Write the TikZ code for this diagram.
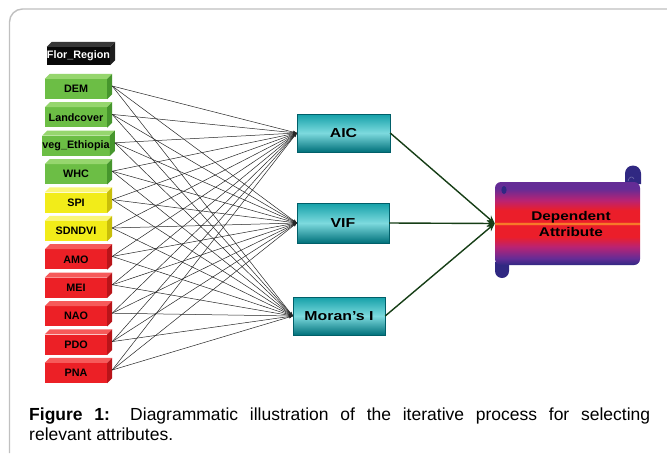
\documentclass[tikz,border=0pt]{standalone}
\usepackage{fontspec}
\setmainfont{Liberation Sans}
\newfontfamily\widefont[FakeStretch=1.22]{Liberation Sans}
\usetikzlibrary{arrows.meta}
\definecolor{grnF}{RGB}{108,190,69}
\definecolor{grnT}{RGB}{150,214,110}
\definecolor{grnS}{RGB}{70,150,45}
\definecolor{ylwF}{RGB}{242,236,25}
\definecolor{ylwT}{RGB}{250,246,120}
\definecolor{ylwS}{RGB}{200,190,10}
\definecolor{redF}{RGB}{236,32,38}
\definecolor{redT}{RGB}{246,90,90}
\definecolor{redS}{RGB}{185,20,25}
\definecolor{blkF}{RGB}{8,8,8}
\definecolor{blkT}{RGB}{55,55,55}
\definecolor{blkS}{RGB}{30,30,30}
\definecolor{tealTop}{RGB}{20,160,168}
\definecolor{tealMid}{RGB}{125,218,222}
\definecolor{tealBot}{RGB}{0,112,122}
\definecolor{tealLine}{RGB}{0,95,105}
\definecolor{scP}{RGB}{100,44,150}
\definecolor{scM}{RGB}{185,35,115}
\definecolor{scR}{RGB}{235,30,42}
\definecolor{scY}{RGB}{252,160,40}
\definecolor{scN}{RGB}{48,40,130}
\definecolor{arrowGreen}{RGB}{22,62,22}
\definecolor{frameGray}{RGB}{192,192,192}
\pgfdeclareverticalshading{scrollshade}{100bp}{color(0bp)=(scN); color(25bp)=(scN); color(29bp)=(scP); color(36bp)=(scM); color(42bp)=(scR); color(49bp)=(scR); color(50bp)=(scY); color(51bp)=(scR); color(58bp)=(scR); color(64bp)=(scM); color(71bp)=(scP); color(75bp)=(scP); color(100bp)=(scP)}
\tikzset{
  frontbox/.style={minimum width=62pt, minimum height=20pt, inner sep=0pt, font=\bfseries\fontsize{10.8}{12}\selectfont, text=black},
  midbox/.style={draw=tealLine, line width=0.4pt, top color=tealTop, bottom color=tealBot, middle color=tealMid, inner sep=0pt, font=\widefont\bfseries\fontsize{13}{15}\selectfont},
  thinlink/.style={draw=black!85, line width=0.5pt, -{Stealth[length=4pt,width=3pt]}},
  thicklink/.style={draw=arrowGreen, line width=1.4pt, -{Stealth[length=8pt,width=7pt]}},
  captext/.style={anchor=base west, inner sep=0pt, font=\fontsize{17.5}{20}\selectfont},
}
\begin{document}
\begin{tikzpicture}[x=1pt,y=-1pt]
\useasboundingbox (0,0) rectangle (667,453);
\fill[white] (0,0) rectangle (667,453);
% frame
\draw[frameGray, line width=1.4pt, rounded corners=13pt] (9.5,453) -- (9.5,9) -- (667,9);

% Flor_Region box
\node[frontbox, minimum width=63pt, minimum height=18pt, fill=blkF, text=white] (flor) at (78.5,56) {Flor\_Region};
\fill[blkT] (flor.north west) -- ++(5,-5) -- ([shift={(5,-5)}]flor.north east) -- (flor.north east) -- cycle;
\fill[blkS] (flor.north east) -- ++(5,-5) -- ([shift={(5,-5)}]flor.south east) -- (flor.south east) -- cycle;

% attribute boxes
\foreach \n/\yy/\t/\cc in {dem/89/DEM/grn, land/117.4/Landcover/grn, veg/145.8/veg\_Ethiopia/grn, whc/174.2/WHC/grn, spi/202.6/SPI/ylw, sdn/231/SDNDVI/ylw, amo/259.4/AMO/red, mei/287.8/MEI/red, nao/316.2/NAO/red, pdo/344.6/PDO/red, pna/373/PNA/red}{
  \node[frontbox, fill=\cc F] (\n) at (76,\yy) {\t};
  \fill[\cc T] (\n.north west) -- ++(5,-5) -- ([shift={(5,-5)}]\n.north east) -- (\n.north east) -- cycle;
  \fill[\cc S] (\n.north east) -- ++(5,-5) -- ([shift={(5,-5)}]\n.south east) -- (\n.south east) -- cycle;
  \coordinate (\n-r) at ([shift={(5,-3)}]\n.east);
}

% selection criteria boxes
\node[midbox, minimum width=93pt, minimum height=38pt] (aic) at (343.5,133) {AIC};
\node[midbox, minimum width=92pt, minimum height=40pt] (vif) at (343,223) {VIF};
\node[midbox, minimum width=92pt, minimum height=38pt] (mor) at (339,316) {Moran’s I};

% many-to-many links
\foreach \n in {dem,land,veg,whc,spi,sdn,amo,mei,nao,pdo,pna}{
  \foreach \m in {aic,vif,mor}{
    \draw[thinlink] (\n-r) -- (\m.west);
  }
}

% dependent attribute scroll
\fill[scN] (625,184) -- (625,173.5) arc (180:360:8) -- (641,184) -- cycle;
\fill[scN] (495,262) -- (495,271) arc (180:0:7) -- (509,262) -- cycle;
\node[shading=scrollshade, rounded corners=6pt, minimum width=145pt, minimum height=83pt, inner sep=0pt] (dep) at (567.5,223.5) {};
\fill[scN] (504,190) ellipse (2.6 and 4);
\draw[scN!70!white, line width=0.6pt] (628,181) .. controls (629,176) and (633,176) .. (634,179);
\node[font=\widefont\bfseries\fontsize{12.6}{16}\selectfont, align=center, inner sep=0pt] (deptext) at (571,224) {Dependent\\Attribute};

\draw[thicklink] (aic.east) -- (dep.west);
\draw[thicklink] (vif.east) -- (dep.west);
\draw[thicklink] (mor.east) -- (dep.west);

% caption
\node[captext] (cap1) at (29,420) {\makebox[621pt][s]{\textbf{Figure 1:} Diagrammatic illustration of the iterative process for selecting}};
\node[captext] (cap2) at (29,440) {relevant attributes.};
\end{tikzpicture}
\end{document}
